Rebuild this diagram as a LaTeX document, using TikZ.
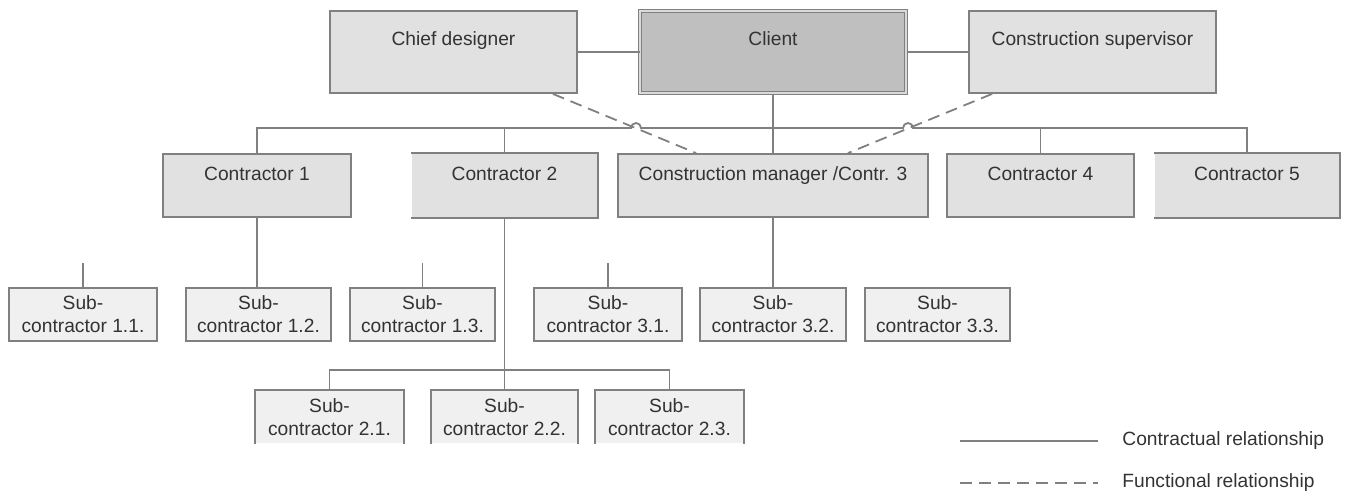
\documentclass[tikz,border=0pt]{standalone}
\usepackage{fontspec}
\setmainfont{Liberation Sans}
\usetikzlibrary{positioning, calc}

\definecolor{linegray}{HTML}{808080}
\definecolor{textgray}{HTML}{333333}
\definecolor{boxgray}{HTML}{E1E1E1}
\definecolor{subgray}{HTML}{F0F0F0}
\definecolor{clientgray}{HTML}{BFBFBF}

\begin{document}
\begin{tikzpicture}[x=0.5pt, y=-0.5pt,
    box/.style={rectangle, line width=0.9pt, text=textgray, inner ysep=0pt, font=\fontsize{9.6}{11.5}\selectfont},
    topbox/.style={box, draw=linegray, fill=boxgray, minimum width=#1, text height=17.2pt, text depth=23.8pt},
    conbox/.style={box, draw=linegray, fill=boxgray, minimum width=#1, text height=13.2pt, text depth=18.3pt},
    openbox/.style={box, fill=boxgray, minimum width=#1, text height=13.2pt, text depth=18.3pt},
    subbox/.style={box, draw=linegray, fill=subgray, minimum width=#1, minimum height=26.5pt, align=center},
    opensub/.style={box, fill=subgray, minimum width=#1, minimum height=26pt, align=center},
    link/.style={draw=linegray, line width=0.9pt},
    func/.style={link, dash pattern=on 6pt off 3.5pt},
    legtext/.style={text=textgray, inner sep=0pt, anchor=west, font=\fontsize{9.6}{11.5}\selectfont}
]
    \useasboundingbox (0,0) rectangle (1345,494);

    % top level
    \node[topbox=123.5pt] (chief) at (453.5,52) {Chief designer};
    \node[topbox=132.8pt, fill=clientgray, line width=0.7pt, double=boxgray!80!clientgray, double distance=0.8pt] (client) at (773,52) {Client};
    \node[topbox=123.5pt] (super) at (1092.5,52) {Construction supervisor};

    % contractors
    \node[conbox=94pt] (c1) at (257,185.5) {Contractor 1};
    \node[openbox=92.5pt] (c2) at (504.5,185.5) {Contractor 2};
    \node[conbox=155pt] (cm) at (773,185.5) {Construction manager /Contr. 3};
    \node[conbox=93.5pt] (c4) at (1040.5,185.5) {Contractor 4};
    \node[openbox=92pt] (c5) at (1247,185.5) {Contractor 5};
    \foreach \n in {c2,c5}
        \draw[link] (\n.north west) -- (\n.north east) -- (\n.south east) -- (\n.south west);

    % sub-contractors
    \node[subbox=74pt] (s11) at (83,314.5) {Sub-\\contractor 1.1.};
    \node[subbox=72.5pt] (s12) at (258.5,314.5) {Sub-\\contractor 1.2.};
    \node[subbox=72.5pt] (s13) at (422.5,314.5) {Sub-\\contractor 1.3.};
    \node[subbox=74pt] (s31) at (608,314.5) {Sub-\\contractor 3.1.};
    \node[subbox=73pt] (s32) at (773,314.5) {Sub-\\contractor 3.2.};
    \node[subbox=72.5pt] (s33) at (937.5,314.5) {Sub-\\contractor 3.3.};

    \node[opensub=73.5pt] (s21) at (329.5,417) {Sub-\\contractor 2.1.};
    \node[opensub=72.5pt] (s22) at (504.5,417) {Sub-\\contractor 2.2.};
    \node[opensub=73.5pt] (s23) at (669.5,417) {Sub-\\contractor 2.3.};
    \foreach \n in {s21,s22,s23}
        \draw[link] (\n.south west) -- (\n.north west) -- (\n.north east) -- (\n.south east);

    % contractual links
    \draw[link] (chief) -- (client);
    \draw[link] (client) -- (super);
    \draw[link] (client) -- (cm);

    \coordinate (busL) at (257,128);
    \coordinate (hopA) at (636,128);
    \coordinate (hopB) at (908,128);
    \draw[link] (c1.north) -- (c1.north |- busL) -- ([xshift=-2.5pt]hopA)
        arc[start angle=180, end angle=0, radius=2.5pt] -- ([xshift=-2.5pt]hopB)
        arc[start angle=180, end angle=0, radius=2.5pt] -- (c5.north |- busL) -- (c5.north);
    \foreach \n in {c2,c4}
        \draw[link] (\n.north) -- (\n.north |- busL);

    \draw[link] (c1.south) -- (c1.south |- s12.north);
    \draw[link] (cm.south) -- (s32.north);
    \foreach \n in {s11,s13,s31}
        \draw[link] (\n.north) -- ++(0,-24);

    \draw[link] (c2.south) -- (s22.north);
    \draw[link] (s21.north) -- ++(0,-20) -| (s23.north);

    % functional links
    \draw[func] ([xshift=-12.5pt]chief.south east) -- ([xshift=39.5pt]cm.north west);
    \draw[func] ([xshift=12pt]super.south west) -- ([xshift=-40.5pt]cm.north east);

    % legend
    \node[legtext] (legc) at (1122,441) {Contractual relationship};
    \node[legtext] (legf) at (1122,483) {Functional relationship};
    \coordinate (lc) at (960,441);
    \coordinate (lf) at (960,483);
    \draw[link] (lc) -- ([xshift=-12pt]legc.west);
    \draw[func] (lf) -- ([xshift=-12pt]legf.west);
\end{tikzpicture}
\end{document}
